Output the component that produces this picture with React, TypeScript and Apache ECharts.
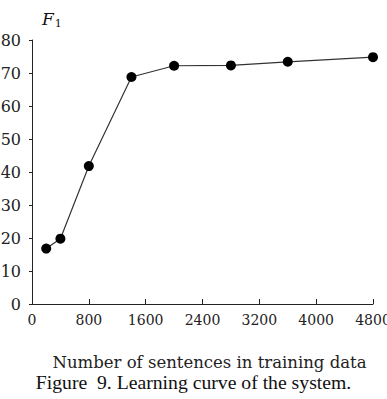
import React, { useEffect, useRef } from "react";
import * as echarts from "echarts";

const sentences = [200, 400, 800, 1400, 2000, 2800, 3600, 4800];
const f1Scores = [16.8, 19.8, 41.8, 68.8, 72.2, 72.3, 73.4, 74.8];
const xTicks = { min: 0, max: 4800, interval: 800 };
const yTicks = { min: 0, max: 80, interval: 10 };
const xAxisTitle = "Number of sentences in training data";
const caption = "Figure  9. Learning curve of the system.";

export default function App() {
  const ref = useRef<HTMLDivElement>(null);
  useEffect(() => {
    if (!ref.current) return;
    const chart = echarts.init(ref.current, null, { renderer: "svg" });
    chart.setOption({
      animation: false,
      backgroundColor: "#ffffff",
      grid: { left: 32, right: 14, top: 40, bottom: 95, containLabel: false, outerBoundsMode: "none" },
      title: {
        text: "{f|F}{s|1}",
        left: 37,
        top: 3,
        textStyle: {
          fontWeight: "normal",
          rich: {
            f: { fontFamily: "DejaVu Serif", fontStyle: "italic", fontWeight: "normal", fontSize: 17, color: "#111" },
            s: { fontFamily: "DejaVu Serif", fontWeight: "normal", fontSize: 11, color: "#111", padding: [10, 0, 0, 1] },
          },
        },
      },
      xAxis: {
        type: "value",
        min: xTicks.min,
        max: xTicks.max,
        interval: xTicks.interval,
        name: xAxisTitle,
        nameLocation: "middle",
        nameGap: 50,
        nameTextStyle: { fontFamily: "DejaVu Serif", fontSize: 16.5, color: "#222", padding: [0, 0, 0, 14] },
        axisLine: { lineStyle: { color: "#222", width: 1 } },
        axisTick: { inside: true, length: 5, lineStyle: { color: "#222" } },
        axisLabel: {
          fontFamily: "DejaVu Serif",
          fontSize: 14,
          color: "#222",
          margin: 9,
          alignMaxLabel: "center",
          formatter: (v: number) => String(v),
        },
        splitLine: { show: false },
      },
      yAxis: {
        type: "value",
        min: yTicks.min,
        max: yTicks.max,
        interval: yTicks.interval,
        axisLine: { show: true, lineStyle: { color: "#222", width: 1 } },
        axisTick: { show: true, length: 3, lineStyle: { color: "#222" } },
        axisLabel: { fontFamily: "DejaVu Serif", fontSize: 16, color: "#222", margin: 11 },
        splitLine: { show: false },
      },
      graphic: [
        {
          type: "text",
          left: "center",
          top: 372,
          style: {
            text: caption,
            font: "19.7px 'Liberation Serif'",
            fill: "#111",
          },
        },
      ],
      series: [
        {
          type: "line",
          data: sentences.map((s, i) => [s, f1Scores[i]]),
          symbol: "circle",
          symbolSize: 10,
          itemStyle: { color: "#000" },
          lineStyle: { color: "#333", width: 1.2 },
        },
      ],
    });
    return () => chart.dispose();
  }, []);
  return (
    <div
      ref={ref}
      style={{ position: "absolute", left: 0, top: 0, width: 387, height: 399 }}
    />
  );
}
